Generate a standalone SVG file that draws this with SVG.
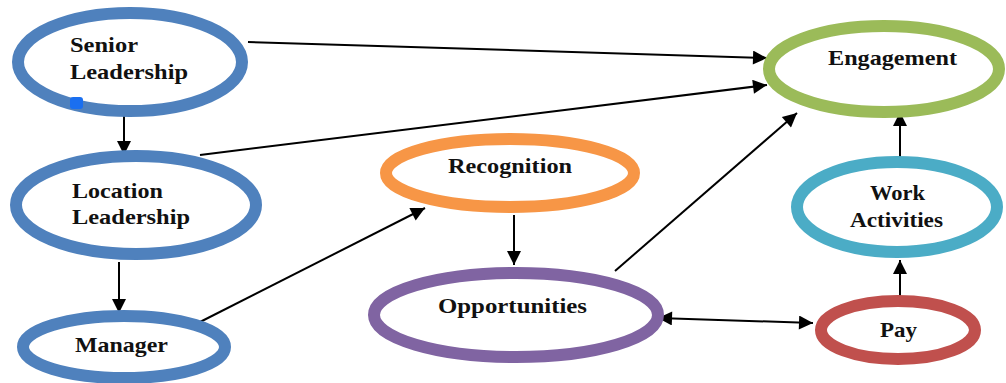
<svg xmlns="http://www.w3.org/2000/svg" width="1006" height="383" viewBox="0 0 1006 383">
  <style>
    .node { fill: #ffffff; stroke-width: 12; }
    .blue { stroke: #4f81bd; }
    .orange { stroke: #f79646; }
    .purple { stroke: #8064a2; }
    .green { stroke: #9bbb59; }
    .teal { stroke: #4bacc6; }
    .red { stroke: #c0504d; }
    .label { font-family: "Liberation Serif", "Times New Roman", serif; font-weight: bold; font-size: 21px; fill: #111111; }
    .edge { stroke: #000000; stroke-width: 2; fill: none; }
  </style>
  <defs>
    <marker id="arrow" viewBox="0 0 10 10" refX="10" refY="5" markerWidth="8" markerHeight="7" orient="auto" markerUnits="strokeWidth">
      <path d="M0,0 L10,5 L0,10 z" fill="#000000"/>
    </marker>
    <marker id="arrowStart" viewBox="0 0 10 10" refX="0" refY="5" markerWidth="8" markerHeight="7" orient="auto" markerUnits="strokeWidth">
      <path d="M10,0 L0,5 L10,10 z" fill="#000000"/>
    </marker>
  </defs>

  <rect width="1006" height="383" fill="#ffffff"/>

  <!-- connectors -->
  <g id="connectors">
    <line class="edge" x1="248" y1="42" x2="767" y2="58" marker-end="url(#arrow)"/>
    <line class="edge" x1="200" y1="155" x2="767" y2="85" marker-end="url(#arrow)"/>
    <line class="edge" x1="124" y1="116" x2="124" y2="155" marker-end="url(#arrow)"/>
    <line class="edge" x1="119" y1="262" x2="119" y2="313" marker-end="url(#arrow)"/>
    <line class="edge" x1="200" y1="322" x2="425" y2="208" marker-end="url(#arrow)"/>
    <line class="edge" x1="514" y1="215" x2="514" y2="265" marker-end="url(#arrow)"/>
    <line class="edge" x1="615" y1="271" x2="797" y2="113" marker-end="url(#arrow)"/>
    <line class="edge" x1="658" y1="318" x2="813" y2="323" marker-start="url(#arrowStart)" marker-end="url(#arrow)"/>
    <line class="edge" x1="900" y1="300" x2="900" y2="260" marker-end="url(#arrow)"/>
    <line class="edge" x1="900" y1="158" x2="900" y2="112" marker-end="url(#arrow)"/>
  </g>

  <!-- nodes -->
  <g id="senior-leadership">
    <ellipse class="node blue" cx="130" cy="62" rx="112" ry="49"/>
    <rect x="70" y="97" width="13" height="12" rx="3" fill="#1a6ff0"/>
    <text class="label" x="70" y="52" textLength="68" lengthAdjust="spacingAndGlyphs">Senior</text>
    <text class="label" x="70" y="79" textLength="118" lengthAdjust="spacingAndGlyphs">Leadership</text>
  </g>
  <g id="location-leadership">
    <ellipse class="node blue" cx="136" cy="205" rx="120" ry="49"/>
    <text class="label" x="72" y="198" textLength="91" lengthAdjust="spacingAndGlyphs">Location</text>
    <text class="label" x="72" y="224" textLength="118" lengthAdjust="spacingAndGlyphs">Leadership</text>
  </g>
  <g id="manager">
    <ellipse class="node blue" cx="124" cy="347" rx="101" ry="31"/>
    <text class="label" x="75" y="352" textLength="93" lengthAdjust="spacingAndGlyphs">Manager</text>
  </g>
  <g id="recognition">
    <ellipse class="node orange" cx="510" cy="173" rx="124" ry="34"/>
    <text class="label" x="448" y="173" textLength="124" lengthAdjust="spacingAndGlyphs">Recognition</text>
  </g>
  <g id="opportunities">
    <ellipse class="node purple" cx="516" cy="315" rx="142" ry="42"/>
    <text class="label" x="438" y="313" textLength="149" lengthAdjust="spacingAndGlyphs">Opportunities</text>
  </g>
  <g id="engagement">
    <ellipse class="node green" cx="884" cy="69" rx="115" ry="43"/>
    <text class="label" x="828" y="65" textLength="129" lengthAdjust="spacingAndGlyphs">Engagement</text>
  </g>
  <g id="work-activities">
    <ellipse class="node teal" cx="897" cy="207" rx="100" ry="45"/>
    <text class="label" x="870" y="200" textLength="55" lengthAdjust="spacingAndGlyphs">Work</text>
    <text class="label" x="850" y="227" textLength="93" lengthAdjust="spacingAndGlyphs">Activities</text>
  </g>
  <g id="pay">
    <ellipse class="node red" cx="898" cy="330" rx="77" ry="29"/>
    <text class="label" x="880" y="337" textLength="37" lengthAdjust="spacingAndGlyphs">Pay</text>
  </g>
</svg>
